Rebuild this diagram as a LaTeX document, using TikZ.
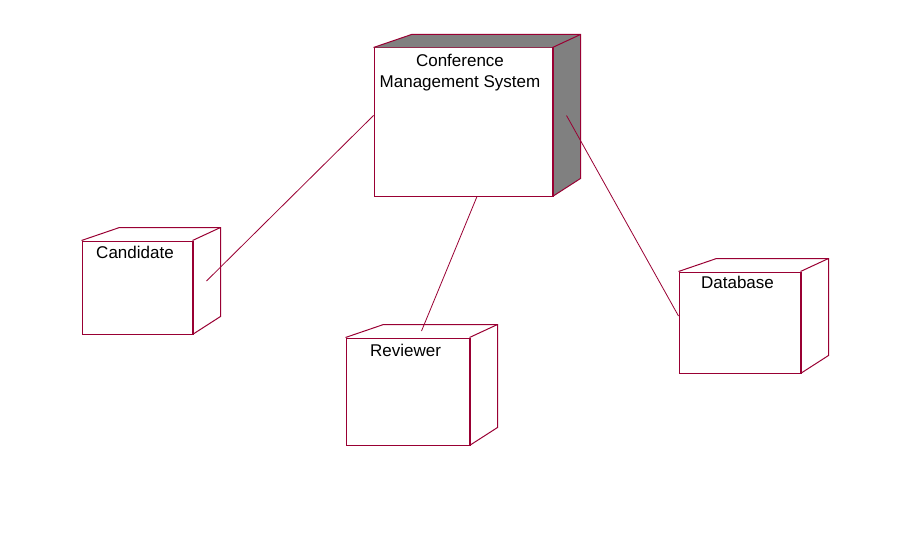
\documentclass[tikz,border=0pt]{standalone}
\usepackage{fontspec}
\setmainfont{Liberation Sans}
\usetikzlibrary{calc}
\definecolor{rosered}{RGB}{153,0,51}
\definecolor{rosegray}{RGB}{128,128,128}

\begin{document}
\begin{tikzpicture}[x=1pt,y=-1pt]
	\tikzstyle{every node}+=[inner sep=0pt]
	\tikzstyle{front}=[draw=rosered,line width=1pt,fill=white]
	\tikzstyle{edge}=[rosered,line width=1pt]
	\tikzstyle{link}=[rosered,line width=0.8pt]
	\tikzstyle{label}=[font=\fontsize{17}{21}\selectfont]
	\useasboundingbox (0,0) rectangle (910,559);
	% front faces
	\node[front,minimum width=178pt,minimum height=148pt] (main) at (463,122) {};
	\node[front,minimum width=110pt,minimum height=93pt] (cand) at (137,287.5) {};
	\node[front,minimum width=123pt,minimum height=107pt] (rev) at (407.5,391.5) {};
	\node[front,minimum width=121pt,minimum height=101pt] (db) at (739.5,322.5) {};
	% shaded top and side of the system node
	\fill[rosegray] (main.north west) -- ++(38,-13) -- ($(main.north east)+(28,-13)$) -- ($(main.south east)+(28,-18)$) -- (main.south east) -- (main.north east) -- cycle;
	\foreach \n in {main,cand,rev,db}{
		\draw[edge] (\n.north west) -- ++(38,-13) -- ($(\n.north east)+(28,-13)$) -- ($(\n.south east)+(28,-18)$) -- (\n.south east);
		\draw[edge] (\n.north east) -- ++(28,-13);
		\draw[edge,line width=2pt] (\n.north east) -- (\n.south east);
		\coordinate (\n-c) at ($(\n.center)+(14,-6.5)$);
	}
	% labels
	\node[label,align=center,anchor=north] (mainlbl) at ($(main.north)+(-3,6.5)$) {Conference\\Management System};
	\node[label,anchor=base] (candlbl) at ($(cand.north)+(-2,18)$) {Candidate};
	\node[label,anchor=base] (revlbl) at ($(rev.north)+(-2,19)$) {Reviewer};
	\node[label,anchor=base] (dblbl) at ($(db.north)+(-2,17)$) {Database};
	% links
	\draw[link] (main.west |- main-c) -- ($(cand.east |- cand-c)+(14,0)$);
	\draw[link] (main-c |- main.south) -- ($(rev-c |- rev.north)+(0,-6.5)$);
	\draw[link] ($(main.east |- main-c)+(14,0)$) -- (db.west |- db-c);
\end{tikzpicture}
\end{document}
